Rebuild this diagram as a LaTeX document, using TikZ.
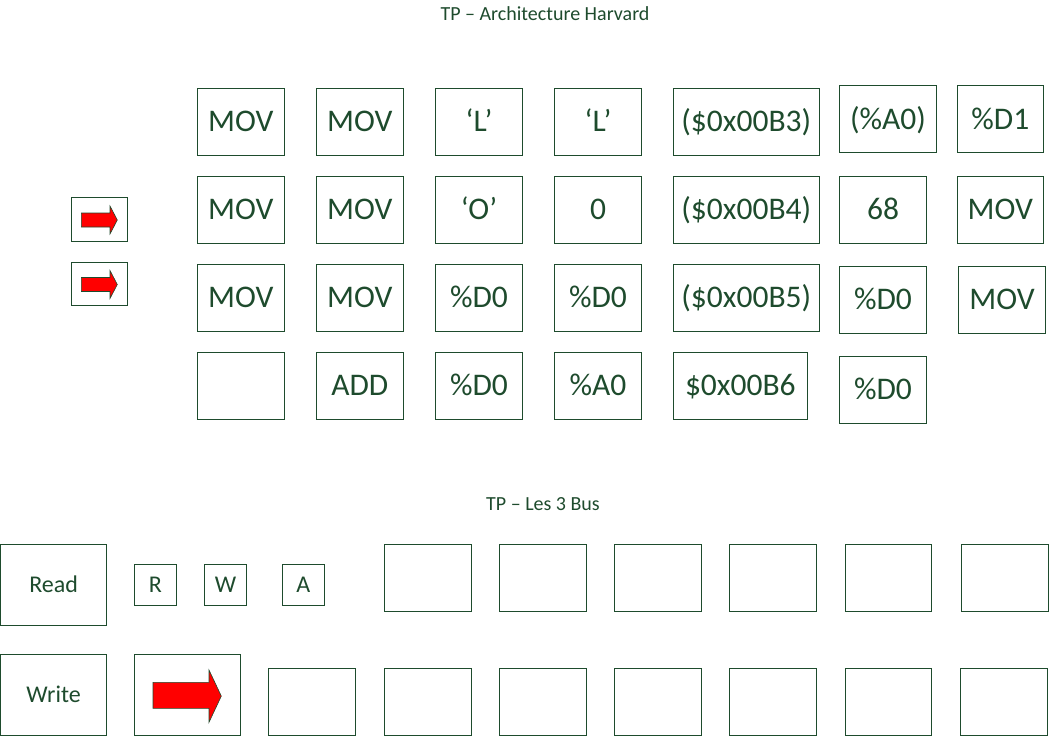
\documentclass[tikz,border=0pt]{standalone}
\usepackage{fontspec}
\setmainfont{Carlito}
\definecolor{dg}{RGB}{30,75,45}
\newcommand\mycell[7]{\node[cell,#6,minimum width={(#4-#2)*1bp},minimum height={(#5-#3)*1bp}] (#1) at ({(#2+#4)/2},{(#3+#5)/2}) {#7};}
\begin{document}
\begin{tikzpicture}[x=1bp,y=-1bp,
  cell/.style={draw=dg,line width=1bp,text=dg,inner sep=0pt,text depth=0pt},
  big/.style={font=\fontsize{31.5bp}{38bp}\selectfont,text height=19.9bp},
  mid/.style={font=\fontsize{24bp}{29bp}\selectfont,text height=15.2bp},
  ttl/.style={text=dg,inner sep=0pt,font=\fontsize{20bp}{24bp}\selectfont},
  redarrow/.style={fill=red,draw=dg,line width=0.6bp,line join=miter}]
\useasboundingbox (0,0) rectangle (1049,736);
% titles
\node[ttl] (t1) at (545,14) {TP – Architecture Harvard};
\node[ttl] (t2) at (543,504) {TP – Les 3 Bus};
% row 1
\mycell{a11}{197.3}{88.3}{284.3}{155}{big}{MOV}
\mycell{a12}{316.3}{88.3}{403.3}{155}{big}{MOV}
\mycell{a13}{435.3}{88.3}{522.7}{155}{big}{‘L’}
\mycell{a14}{554.3}{88.3}{641.7}{155}{big}{‘L’}
\mycell{a15}{673.3}{88.3}{819.3}{155}{big}{(\$0x00B3)}
\mycell{a16}{839.3}{86}{936.7}{152.3}{big}{(\%A0)}
\mycell{a17}{957.3}{86}{1043.3}{152.3}{big}{\%D1}
% row 2
\mycell{a21}{197.3}{176.7}{284.3}{243.3}{big}{MOV}
\mycell{a22}{316.3}{176.7}{403.3}{243.3}{big}{MOV}
\mycell{a23}{435.3}{176.7}{522.7}{243.3}{big}{‘O’}
\mycell{a24}{554.3}{176.7}{641.7}{243.3}{big}{0}
\mycell{a25}{673.3}{176.7}{819.3}{243.3}{big}{(\$0x00B4)}
\mycell{a26}{839.3}{176.7}{926.7}{243.3}{big}{68}
\mycell{a27}{957.3}{176.7}{1043.3}{243.3}{big}{MOV}
% row 3
\mycell{a31}{197.3}{264.3}{284.3}{331}{big}{MOV}
\mycell{a32}{316.3}{264.3}{403.3}{331}{big}{MOV}
\mycell{a33}{435.3}{264.3}{522.7}{331}{big}{\%D0}
\mycell{a34}{554.3}{264.3}{641.7}{331}{big}{\%D0}
\mycell{a35}{673.3}{264.3}{819.3}{331}{big}{(\$0x00B5)}
\mycell{a36}{839.3}{266.7}{926.7}{333.3}{big}{\%D0}
\mycell{a37}{958.3}{266.7}{1045.7}{333.3}{big}{MOV}
% row 4
\mycell{a41}{197.3}{352.3}{284.3}{419.3}{big}{}
\mycell{a42}{316.3}{352.3}{403.3}{419.3}{big}{ADD}
\mycell{a43}{435.3}{352.3}{522.7}{419.3}{big}{\%D0}
\mycell{a44}{554.3}{352.3}{641.7}{419.3}{big}{\%A0}
\mycell{a45}{673.3}{352.3}{807.3}{419}{big}{\$0x00B6}
\mycell{a46}{839.3}{356.3}{926.7}{423}{big}{\%D0}
% pointer boxes
\mycell{p1}{71.3}{197.3}{127.3}{241.3}{mid}{}
\mycell{p2}{71.3}{262.3}{127.3}{305.3}{mid}{}
\draw[redarrow,shift={(p1.center)}] (-18,-6.3) -- (10.7,-6.3) -- (10.7,-13.3) -- (18,0.7) -- (10.7,14.7) -- (10.7,7.7) -- (-18,7.7) -- cycle;
\draw[redarrow,shift={(p2.center)}] (-18,-6.3) -- (10.7,-6.3) -- (10.7,-13.3) -- (18,0.7) -- (10.7,14.7) -- (10.7,7.7) -- (-18,7.7) -- cycle;
% bus section
\mycell{rd}{0.5}{544.3}{106.7}{625.3}{mid}{Read}
\mycell{br}{134.3}{564.3}{176.7}{605.3}{mid}{R}
\mycell{bw}{204.3}{564.3}{246.7}{605.3}{mid}{W}
\mycell{ba}{282.3}{564.3}{324.3}{605.3}{mid}{A}
\mycell{r1}{384.3}{544.3}{471.3}{611}{mid}{}
\mycell{r2}{499.3}{544.3}{586.3}{611}{mid}{}
\mycell{r3}{614.3}{544.3}{701.7}{611}{mid}{}
\mycell{r4}{729.3}{544.3}{816.7}{611}{mid}{}
\mycell{r5}{845.3}{544.3}{931.7}{611}{mid}{}
\mycell{r6}{961.3}{544.3}{1048.3}{611}{mid}{}
\mycell{wr}{0.5}{654.3}{106.7}{735.3}{mid}{Write}
\mycell{wa}{134.3}{654.3}{240.7}{735.3}{mid}{}
\draw[redarrow,shift={(wa.center)}] (-34.5,-12.5) -- (21.5,-12.5) -- (21.5,-24.8) -- (33.8,1.3) -- (21.5,27.5) -- (21.5,13.5) -- (-34.5,13.5) -- cycle;
\mycell{w0}{268.3}{668.3}{355.3}{735.3}{mid}{}
\mycell{w1}{384.3}{668.3}{471.3}{735.3}{mid}{}
\mycell{w2}{499.3}{668.3}{586.3}{735.3}{mid}{}
\mycell{w3}{614.3}{668.3}{701.7}{735.3}{mid}{}
\mycell{w4}{729.3}{668.3}{816.7}{735.3}{mid}{}
\mycell{w5}{845.3}{668.3}{931.7}{735.3}{mid}{}
\mycell{w6}{960.3}{668.3}{1047.7}{735.3}{mid}{}
\end{tikzpicture}
\end{document}
